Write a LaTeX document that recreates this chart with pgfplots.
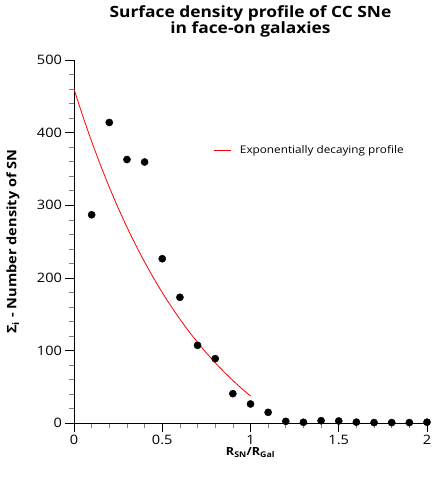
\documentclass[border=0pt]{standalone}
\usepackage{pgfplots}
\pgfplotsset{compat=1.18}
\usepackage{fontspec}
\setmainfont[FakeStretch=1.12]{Open Sans}
\begin{document}
\begin{tikzpicture}
\begin{axis}[
  at={(0,0)}, anchor=south west,
  scale only axis, width=353pt, height=363.3pt,
  xmin=0, xmax=2, ymin=0, ymax=500,
  axis x line*=bottom, axis y line*=left,
  axis line style={-, black, line width=0.8pt},
  xtick={0,0.5,1,1.5,2}, ytick={0,100,200,300,400,500},
  minor x tick num=4, minor y tick num=4,
  tick align=outside,
  major tick length=8.5pt, minor tick length=5pt,
  every tick/.style={black, line width=0.8pt},
  every minor tick/.style={gray, line width=0.7pt},
  /pgf/number format/assume math mode=true,
  tick label style={font=\fontsize{13}{15}\selectfont},
  title={Surface density profile of CC SNe\\in face-on galaxies},
  title style={font=\fontsize{15.5}{16.5}\selectfont\bfseries, align=center, at={(0.5,1)}, anchor=south, yshift=13pt},
  xlabel={R\textsubscript{SN}/R\textsubscript{Gal}},
  ylabel={Σ\textsubscript{i} - Number density of SN},
  xlabel style={font=\fontsize{11.2}{13}\selectfont\bfseries, yshift=4pt},
  ylabel style={font=\fontsize{13}{15}\selectfont\bfseries, at={(axis description cs:-0.173,0.5)}, anchor=center},
  legend style={draw=none, fill=none, at={(axis cs:0.77,376)}, anchor=west, font=\fontsize{10.5}{12}\selectfont, legend cell align=left},
]
\addplot[red, line width=0.8pt, smooth] coordinates {
(0,460.0) (0.05,422.7) (0.1,387.9) (0.15,355.4) (0.2,325.0) (0.25,296.6) (0.3,270.0)
(0.35,245.2) (0.4,222.0) (0.45,200.3) (0.5,180.0) (0.55,161.1) (0.6,143.4) (0.65,126.8)
(0.7,111.4) (0.75,96.9) (0.8,83.4) (0.85,70.8) (0.9,59.0) (0.95,47.9) (1.0,37.6)
};
\addlegendentry{\hspace{7pt}Exponentially decaying profile}
\addplot[only marks, mark=*, mark size=3.6pt, black, forget plot] coordinates {
(0.1,287) (0.2,414) (0.3,363) (0.4,359.6) (0.5,226.5) (0.6,173.4)
(0.7,107.3) (0.8,89) (0.9,40.8) (1.0,26.6) (1.1,15.1) (1.2,2.7)
(1.3,1.4) (1.4,3.6) (1.5,3.2) (1.6,1.6) (1.7,1) (1.8,1) (1.9,1) (2.0,1.5)
};
\end{axis}
\pgfresetboundingbox
\path (-74pt,-53.7pt) rectangle (358pt,423.3pt);
\end{tikzpicture}
\end{document}
